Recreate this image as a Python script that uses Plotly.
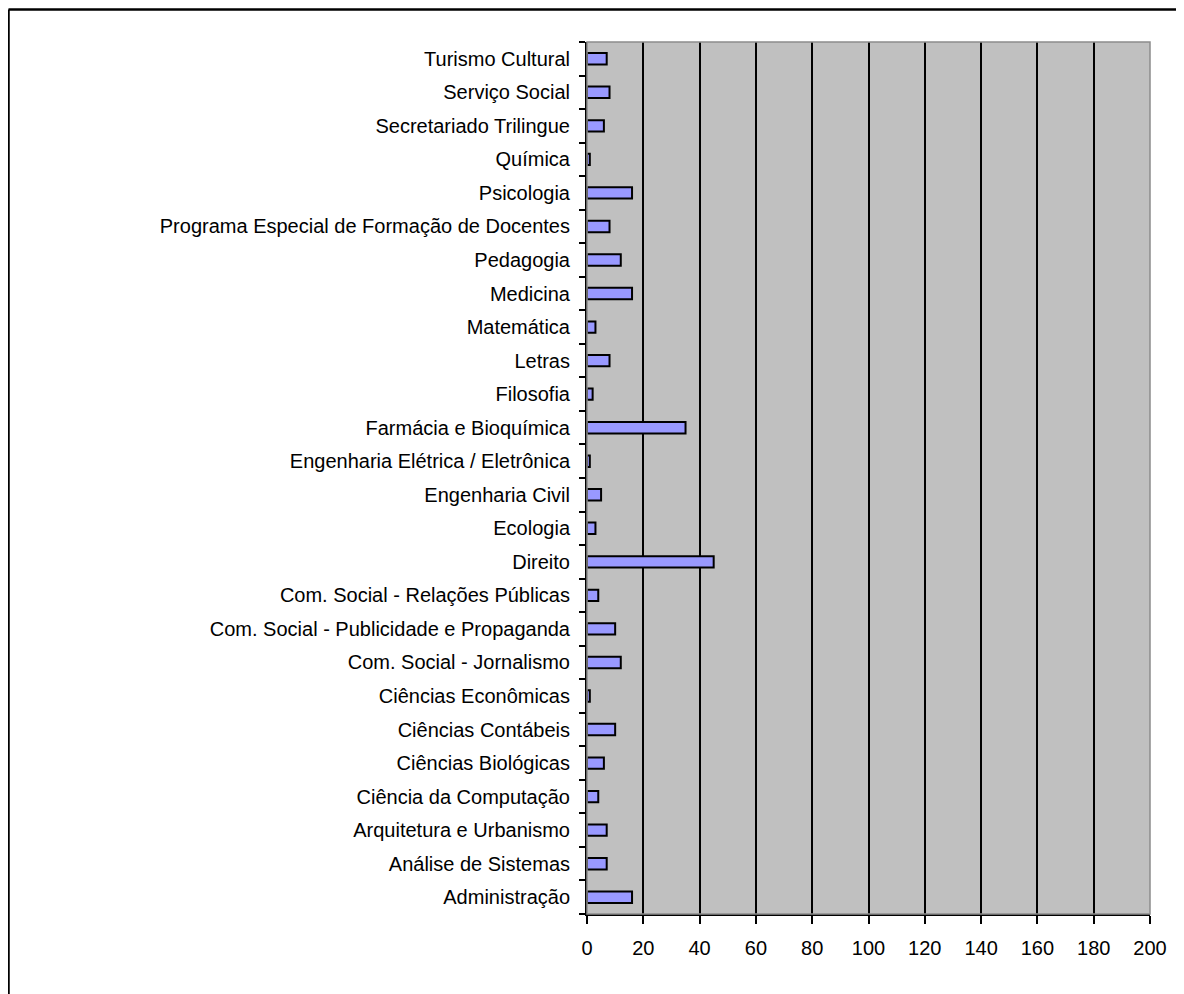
import plotly.graph_objects as go

cursos = [
    "Administração", "Análise de Sistemas", "Arquitetura e Urbanismo",
    "Ciência da Computação", "Ciências Biológicas", "Ciências Contábeis",
    "Ciências Econômicas", "Com. Social - Jornalismo",
    "Com. Social - Publicidade e Propaganda", "Com. Social - Relações Públicas",
    "Direito", "Ecologia", "Engenharia Civil", "Engenharia Elétrica / Eletrônica",
    "Farmácia e Bioquímica", "Filosofia", "Letras", "Matemática", "Medicina",
    "Pedagogia", "Programa Especial de Formação de Docentes", "Psicologia",
    "Química", "Secretariado Trilingue", "Serviço Social", "Turismo Cultural",
]
valores = [16, 7, 7, 4, 6, 10, 1, 12, 10, 4, 45, 3, 5, 1, 35, 2, 8, 3, 16, 12, 8, 16, 1, 6, 8, 7]
x_ticks = [0, 20, 40, 60, 80, 100, 120, 140, 160, 180, 200]

# page offset of the figure inside the browser window (default body margin)
OFF = 8
W, H = 1184, 994
L, R, T, B = 587 - OFF, W - (1150 - OFF), 42 - OFF, H - (914 - OFF)
PW = W - L - R
PH = H - T - B

def px_x(px):
    return (px - L) / PW

def px_y(py):
    return (H - B - py) / PH

font_family = "Liberation Sans, Arial, sans-serif"

fig = go.Figure(go.Bar(
    x=valores, y=cursos, orientation="h",
    marker=dict(color="#9999FF", line=dict(color="black", width=2)),
))

fig.update_layout(
    width=W, height=H,
    margin=dict(l=L, r=R, t=T, b=B),
    paper_bgcolor="white", plot_bgcolor="#C0C0C0",
    bargap=0.66, showlegend=False,
    font=dict(family=font_family, size=20, color="black"),
    xaxis=dict(
        range=[0, 200], tickvals=x_ticks, ticktext=[str(v) for v in x_ticks],
        showgrid=True, gridcolor="black", gridwidth=2,
        showline=True, linecolor="black", linewidth=2,
        ticks="outside", ticklen=8, tickcolor="black", tickwidth=2,
        ticklabelstandoff=7, zeroline=False,
    ),
    yaxis=dict(
        type="category", categoryorder="array", categoryarray=cursos,
        showgrid=False, showline=True, linecolor="black", linewidth=2,
        ticks="outside", ticklen=6, tickcolor="black", tickwidth=2,
        tickson="boundaries", ticklabelstandoff=11,
    ),
    shapes=[
        dict(type="rect", xref="paper", yref="paper", x0=0, x1=1, y0=0, y1=1,
             line=dict(color="#8c8c8c", width=1.5), layer="above"),
        dict(type="line", xref="paper", yref="paper",
             x0=px_x(0.5), x1=px_x(W + 5), y0=px_y(1.5), y1=px_y(1.5),
             line=dict(color="black", width=2.5)),
        dict(type="line", xref="paper", yref="paper",
             x0=px_x(0.5), x1=px_x(0.5), y0=px_y(1.5), y1=px_y(H + 5),
             line=dict(color="black", width=2.5)),
    ],
)

fig.write_html("out.html")
